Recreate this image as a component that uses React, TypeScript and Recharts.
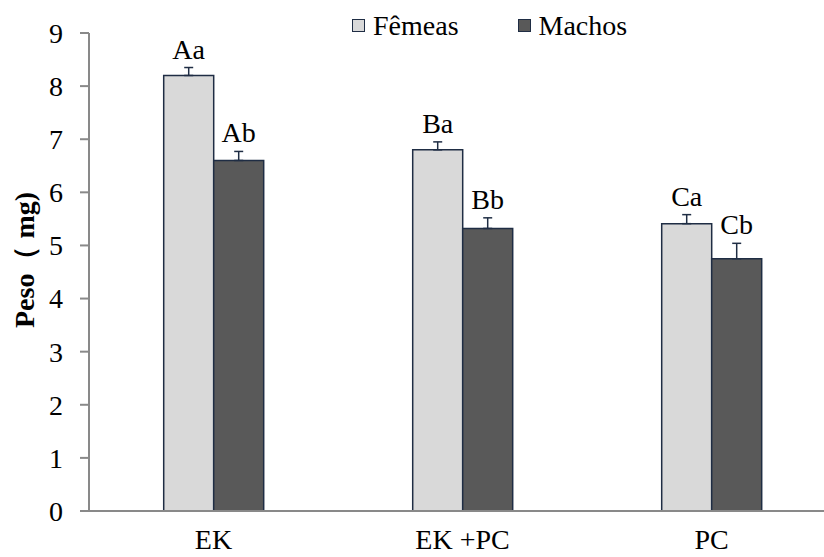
import React from "react";
import {
  BarChart,
  Bar,
  XAxis,
  YAxis,
  ErrorBar,
  LabelList,
} from "recharts";

const categories = ["EK", "EK +PC", "PC"];
const series = ["Fêmeas", "Machos"];
const femeas = [8.2, 6.8, 5.41];
const machos = [6.6, 5.32, 4.75];
const femeasErr = [0.15, 0.15, 0.17];
const machosErr = [0.17, 0.2, 0.29];
const femeasLetters = ["Aa", "Ba", "Ca"];
const machosLetters = ["Ab", "Bb", "Cb"];
const yTicks = [0, 1, 2, 3, 4, 5, 6, 7, 8, 9];

const data = categories.map((c, i) => ({
  name: c,
  f: femeas[i],
  m: machos[i],
  fErr: [0, femeasErr[i]],
  mErr: [0, machosErr[i]],
  fLab: femeasLetters[i],
  mLab: machosLetters[i],
}));

const FONT = "Liberation Serif, Times New Roman, DejaVu Serif, serif";
const FS = 28;
const BORDER = "#1f2d44";
const colors = ["#d9d9d9", "#595959"];

const makeLabel = (vals: number[], errs: number[]) => (props: any) => {
  const { x, y, width, height, value, index } = props;
  const pxPerUnit = height / vals[index];
  const top = y - errs[index] * pxPerUnit;
  return (
    <text
      x={x + width / 2}
      y={top - 9}
      textAnchor="middle"
      style={{ fontFamily: FONT, fontSize: FS }}
      fill="#000"
    >
      {value}
    </text>
  );
};

const App: React.FC = () => {
  return (
    <div
      style={{
        position: "absolute",
        left: 0,
        top: 0,
        width: 824,
        height: 557,
        overflow: "hidden",
        background: "#fff",
        fontFamily: FONT,
      }}
    >
      <BarChart
        width={840}
        height={557}
        data={data}
        margin={{ top: 33, right: 4, left: 39, bottom: 10 }}
        barCategoryGap="30%"
        barGap={0}
        style={{ fontFamily: FONT }}
      >
        <XAxis
          dataKey="name"
          tickLine={false}
          axisLine={{ stroke: "#898989", strokeWidth: 2 }}
          tick={{ style: { fontFamily: FONT, fontSize: FS }, fill: "#000" }}
          height={36}
          dy={10}
        />
        <YAxis
          width={50}
          domain={[0, 9]}
          ticks={yTicks}
          interval={0}
          tickSize={9}
          tickMargin={17}
          tickLine={{ stroke: "#898989", strokeWidth: 2 }}
          axisLine={{ stroke: "#898989", strokeWidth: 2 }}
          tick={{ style: { fontFamily: FONT, fontSize: FS }, fill: "#000" }}
          label={{
            value: "Peso（ mg)",
            angle: -90,
            position: "insideLeft",
            dx: -20,
            dy: 56,
            style: {
              fontFamily: FONT,
              fontSize: FS,
              fontWeight: "bold",
              fill: "#000",
            },
          }}
        />
        <Bar
          dataKey="f"
          name={series[0]}
          fill={colors[0]}
          stroke={BORDER}
          strokeWidth={1.5}
          isAnimationActive={false}
        >
          <ErrorBar
            dataKey="fErr"
            width={4.5}
            stroke={BORDER}
            strokeWidth={1.5}
            direction="y"
          />
          <LabelList dataKey="fLab" content={makeLabel(femeas, femeasErr)} />
        </Bar>
        <Bar
          dataKey="m"
          name={series[1]}
          fill={colors[1]}
          stroke={BORDER}
          strokeWidth={1.5}
          isAnimationActive={false}
        >
          <ErrorBar
            dataKey="mErr"
            width={4.5}
            stroke={BORDER}
            strokeWidth={1.5}
            direction="y"
          />
          <LabelList dataKey="mLab" content={makeLabel(machos, machosErr)} />
        </Bar>
      </BarChart>
      <div
        style={{
          position: "absolute",
          top: 10,
          left: 352,
          display: "flex",
          fontFamily: FONT,
          fontSize: FS,
          lineHeight: "31px",
          color: "#000",
        }}
      >
        {series.map((s, i) => (
          <div
            key={s}
            style={{
              display: "flex",
              alignItems: "center",
              marginRight: i === 0 ? 59 : 0,
            }}
          >
            <span
              style={{
                display: "inline-block",
                boxSizing: "border-box",
                width: 13,
                height: 13,
                background: colors[i],
                border: `1.5px solid ${BORDER}`,
                marginRight: 8,
              }}
            />
            {s}
          </div>
        ))}
      </div>
    </div>
  );
};

export default App;
